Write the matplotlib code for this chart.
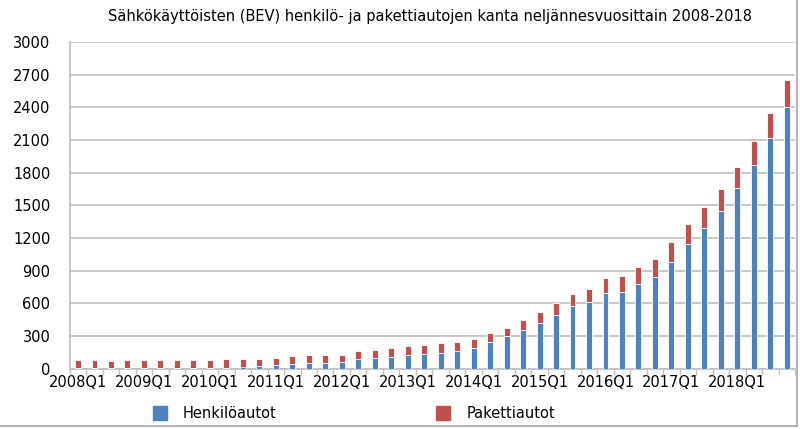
import matplotlib
matplotlib.use("Agg")
from matplotlib import pyplot as plt
from matplotlib.lines import Line2D
import numpy as np

# Neljännekset 2008Q1 ... 2018Q4
vuodet = list(range(2008, 2019))
neljannekset = [f"{v}Q{q}" for v in vuodet for q in range(1, 5)]

# luettu kuvasta (arvioita)
henkiloautot = [2, 2, 2, 2, 3, 3, 3, 4, 5, 6, 10, 20,
                28, 43, 49, 55, 62, 83, 98, 108, 123, 135, 145, 163,
                193, 240, 295, 353, 421, 488, 571, 611, 690, 703, 774, 845,
                980, 1141, 1289, 1449, 1659, 1874, 2116, 2399]
yhteensa = [79, 77, 73, 77, 75, 74, 79, 80, 80, 84, 85, 88,
            97, 113, 126, 126, 126, 157, 166, 185, 206, 218, 230, 243,
            273, 329, 371, 445, 522, 602, 688, 731, 830, 851, 937, 1005,
            1159, 1326, 1486, 1649, 1853, 2092, 2350, 2649]
pakettiautot = [t - h for t, h in zip(yhteensa, henkiloautot)]

y_ticks = list(range(0, 3001, 300))

SININEN = "#4F81BD"
PUNAINEN = "#C0504D"
HARMAA = "#BFBFBF"

plt.rcParams["font.family"] = ["DejaVu Sans"]

fig = plt.figure(figsize=(8, 4.29), dpi=100)
ax = fig.add_axes([0.0872, 0.141, 0.9066, 0.761])

x = np.arange(len(neljannekset))
ax.bar(x, henkiloautot, width=0.36, color=SININEN, edgecolor="white",
       linewidth=0.6, zorder=3)
ax.bar(x, pakettiautot, width=0.36, bottom=henkiloautot, color=PUNAINEN,
       edgecolor="white", linewidth=0.6, zorder=3)

ax.set_xlim(-0.5, len(neljannekset) - 0.5)
ax.set_ylim(0, 3000)
ax.set_yticks(y_ticks)
ax.set_yticklabels([str(v) for v in y_ticks], fontsize=10.5)
ax.yaxis.grid(True, color=HARMAA, linewidth=1.2, zorder=0)
ax.tick_params(axis="y", length=0, pad=14)

ax.set_xticks(x[::4])
ax.set_xticklabels(neljannekset[::4], fontsize=10.5)
ax.set_xticks(np.arange(-0.5, len(neljannekset), 1), minor=True)
ax.tick_params(axis="x", which="major", length=0, pad=5)
ax.tick_params(axis="x", which="minor", length=4, color=HARMAA, width=1)

for s in ["top", "right"]:
    ax.spines[s].set_visible(False)
ax.spines["left"].set_color(HARMAA)
ax.spines["bottom"].set_color(HARMAA)
ax.spines["left"].set_linewidth(1.2)
ax.spines["bottom"].set_linewidth(1.2)

fig.text(0.537, 0.962,
         "Sähkökäyttöisten (BEV) henkilö- ja pakettiautojen kanta neljännesvuosittain 2008-2018",
         ha="center", va="center", fontsize=10.5, family=["Liberation Sans Narrow", "DejaVu Sans"])

kahvat = [Line2D([], [], marker="s", linestyle="none", markersize=10,
                 markerfacecolor=SININEN, markeredgecolor=SININEN),
          Line2D([], [], marker="s", linestyle="none", markersize=10,
                 markerfacecolor=PUNAINEN, markeredgecolor=PUNAINEN)]
fig.legend(kahvat, ["Henkilöautot", "Pakettiautot"], ncol=2, frameon=False,
           loc="center", bbox_to_anchor=(0.4375, 0.037), fontsize=10.5,
           columnspacing=10.4, handletextpad=0.6)

# kaavion reunaviiva oikealla ja alhaalla
fig.add_artist(Line2D([0.996, 0.996], [0.008, 1.0], color="#A6A6A6", linewidth=1.2))
fig.add_artist(Line2D([0.0, 0.996], [0.008, 0.008], color="#A6A6A6", linewidth=1.2))

fig.savefig("out.png", dpi=100)
